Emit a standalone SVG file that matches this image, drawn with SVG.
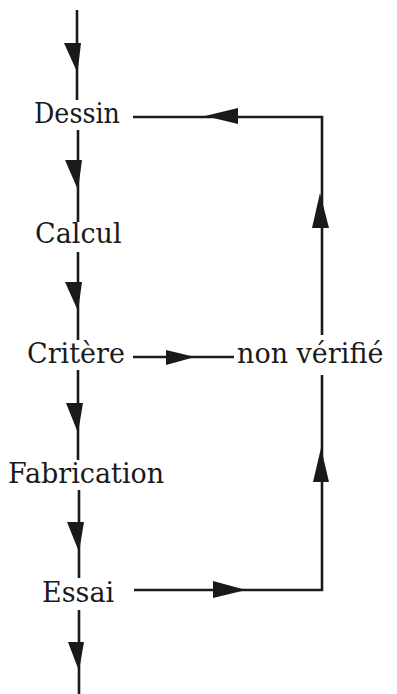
<svg xmlns="http://www.w3.org/2000/svg" width="397" height="694" viewBox="0 0 397 694">
<style>
.lbl{font-family:"DejaVu Serif","Liberation Serif",serif;font-size:27px;fill:#1a1a1a}
.ln{stroke:#1a1a1a;stroke-width:2.6;fill:none}
.ah{fill:#1a1a1a;stroke:none}
</style>
<rect width="397" height="694" fill="#fff"/>
<g id="connectors">
<path class="ln" d="M77,10V100M78,130V222M78,252V340M78,370V460M79,490V578M79,610V694"/>
<polygon class="ah" points="64,43 81,43 77.5,73"/>
<polygon class="ah" points="65,160 82,160 78,190"/>
<polygon class="ah" points="65,282 82,282 78,311"/>
<polygon class="ah" points="66,403 83,403 78,433"/>
<polygon class="ah" points="67,522 84,522 79,552"/>
<polygon class="ah" points="68,642 84,642 79,671"/>
<path class="ln" d="M133,117H322V335"/>
<polygon class="ah" points="205,116 238,108 238,124"/>
<polygon class="ah" points="320,193 312,228 329,228"/>
<path class="ln" d="M133,357H234"/>
<polygon class="ah" points="166,350 195,357 166,365"/>
<path class="ln" d="M322,375V590H134"/>
<polygon class="ah" points="321,448 313,482 329,482"/>
<polygon class="ah" points="246,590 213,581 213,598"/>
</g>
<g id="dessin"><text class="lbl" x="34" y="123" textLength="86" lengthAdjust="spacingAndGlyphs">Dessin</text></g>
<g id="calcul"><text class="lbl" x="35" y="243">Calcul</text></g>
<g id="critere"><text class="lbl" x="27" y="363">Critère</text></g>
<g id="non-verifie"><text class="lbl" x="237" y="363">non vérifié</text></g>
<g id="fabrication"><text class="lbl" x="8" y="483">Fabrication</text></g>
<g id="essai"><text class="lbl" x="42" y="602">Essai</text></g>
</svg>
